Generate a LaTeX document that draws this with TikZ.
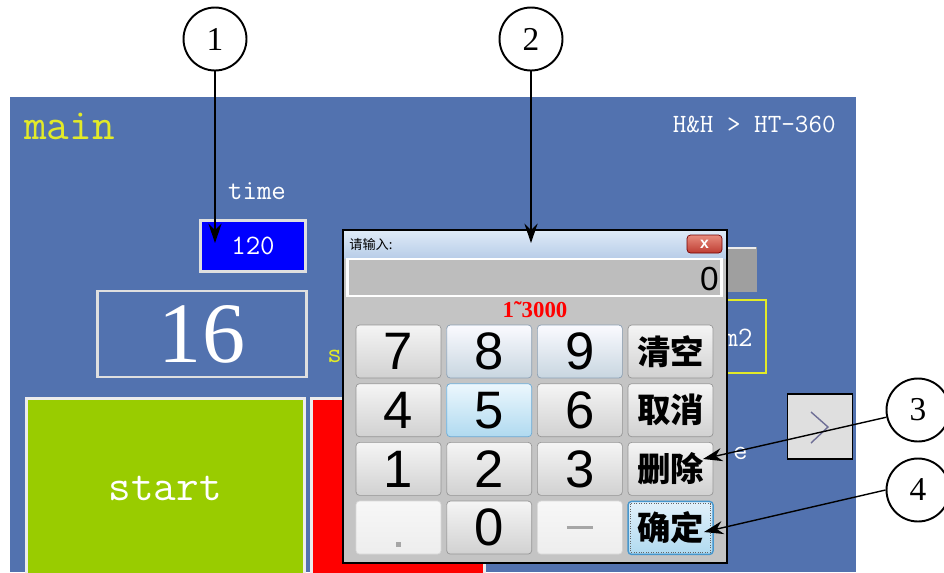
\documentclass[tikz,border=0pt]{standalone}
\usepackage{fontspec}
\newfontfamily\cjk{Noto Sans CJK SC}
\newfontfamily\keyfont{Liberation Sans}
\newfontfamily\numfont{Liberation Serif}
\usetikzlibrary{arrows.meta,positioning}

\definecolor{panelblue}{RGB}{82,114,175}
\definecolor{hmiyellow}{RGB}{226,234,40}
\definecolor{startgreen}{RGB}{153,204,0}
\definecolor{dlggrey}{RGB}{196,196,196}
\definecolor{keyedge}{RGB}{150,150,150}
\definecolor{titletop}{RGB}{222,234,247}
\definecolor{titlebot}{RGB}{184,205,232}
\definecolor{hoveredge}{RGB}{140,160,180}
\definecolor{focusedge}{RGB}{70,150,205}

\tikzset{
	hmitext/.style={font=\ttfamily\fontsize{16}{16}\selectfont,text=white,inner sep=0pt},
	key/.style={draw=keyedge,rounded corners=2pt,top color=white!96!black,bottom color=white!82!black,
		minimum width=1.7cm,minimum height=1.06cm,inner sep=0pt,font=\keyfont\fontsize{30}{30}\selectfont},
	hoverkey/.style={key,draw=hoveredge,top color=white!94!blue!30!white,bottom color={rgb,255:red,200;green,214;blue,224}},
	flatkey/.style={key,draw=white!85!black,top color=white!97!black,bottom color=white!93!black},
	cnkey/.style={key,font=\cjk\bfseries\fontsize{19}{19}\selectfont},
	callout/.style={draw,circle,line width=1.1pt,minimum size=1.26cm,fill=white,inner sep=0pt,
		font=\numfont\fontsize{19}{19}\selectfont},
	pointer/.style={-{Stealth[length=11pt,width=7.5pt]},line width=0.8pt}
}

\begin{document}
\begin{tikzpicture}[x=0.02cm,y=-0.02cm,node distance=1mm]
	\useasboundingbox (0,0) rectangle (944,572);

	% HMI screen
	\fill[panelblue] (10,97) rectangle (856,572);
	\node[hmitext,text=hmiyellow,anchor=west,font=\ttfamily\fontsize{25}{25}\selectfont] (title) at (24,126) {main};
	\node[hmitext,anchor=east,font=\ttfamily\fontsize{15}{15}\selectfont] (model) at (836,124) {H\&H > HT-360};
	\node[hmitext] (timelabel) at (257,191) {time};
	\node[hmitext,fill=blue,draw=white!75!gray,line width=1.5pt,minimum width=2.1cm,minimum height=1.02cm] (timeset) at (253,246) {120};
	\node[hmitext,draw=white!75!gray,line width=1.5pt,minimum width=4.18cm,minimum height=1.72cm,
		font=\numfont\fontsize{49}{49}\selectfont] (counter) at (202,334) {16};
	\node[hmitext,text=hmiyellow,anchor=west] (unit) at (327,356) {s};
	\node[hmitext,fill=startgreen,draw=white!85!gray,line width=1.5pt,minimum width=5.56cm,minimum height=3.6cm,
		anchor=north west,font=\ttfamily\fontsize{25}{25}\selectfont] (start) at (25,397) {start};
	\node[fill=red,draw=white!85!gray,line width=1.5pt,minimum width=3.46cm,minimum height=3.6cm,anchor=north west] (stop) at (310,397) {};

	% widgets partly under the keypad
	\fill[gray!75] (700,247) rectangle (757,292);
	\draw[white!85!gray,line width=1pt] (700,248) -- (756,248);
	\draw[hmiyellow,line width=1.2pt] (700,300) rectangle (766,373);
	\node[hmitext,anchor=east] (area) at (753,338) {m2};
	\node[hmitext,anchor=east] (mode) at (748,453) {e};
	\node[draw=black,fill=white!75!gray,line width=1pt,minimum width=1.3cm,minimum height=1.3cm] (next) at (820,426.5) {};
	\draw[line width=0.8pt,color={rgb,255:red,110;green,110;blue,150}] (811,412) -- (828,427) -- (811,443);

	% keypad dialog
	\fill[dlggrey] (343,230) rectangle (727,563);
	\shade[top color=titletop,bottom color=titlebot] (344,231) rectangle (726,258);
	\draw[black,line width=0.8pt] (343,230) rectangle (727,563);
	\node[anchor=west,inner sep=0pt,font=\cjk\fontsize{7.5}{7.5}\selectfont] (prompt) at (349,244) {请输入:};
	\node[draw=red!45!black,rounded corners=2pt,top color={rgb,255:red,232;green,140;blue,125},
		bottom color={rgb,255:red,190;green,60;blue,50},minimum width=0.7cm,minimum height=0.36cm,inner sep=0pt,
		text=white,font=\keyfont\bfseries\fontsize{9}{9}\selectfont] (close) at (704.5,244) {x};
	\node[draw=white,line width=1.2pt,fill=white!74!black,minimum width=7.48cm,minimum height=0.74cm] (display) at (534.5,277.5) {};
	\node[anchor=east,inner sep=0pt,font=\keyfont\fontsize{19}{19}\selectfont] (value) at (719,279) {0};
	\node[text=red,inner sep=0pt,font=\numfont\bfseries\fontsize{13}{13}\selectfont] (range) at (535,310) {1˜3000};

	\node[key] (K7) at (398.5,351.5) {7};
	\node[hoverkey] (K8) [right=of K7] {8};
	\node[hoverkey] (K9) [right=of K8] {9};
	\node[cnkey] (Kclear) [right=of K9] {清空};
	\node[key] (K4) [below=of K7] {4};
	\node[key,draw=focusedge!80,top color={rgb,255:red,236;green,247;blue,253},bottom color={rgb,255:red,176;green,218;blue,240}] (K5) [below=of K8] {5};
	\node[key] (K6) [below=of K9] {6};
	\node[cnkey] (Kcancel) [below=of Kclear] {取消};
	\node[key] (K1) [below=of K4] {1};
	\node[key] (K2) [below=of K5] {2};
	\node[key] (K3) [below=of K6] {3};
	\node[cnkey] (Kdel) [below=of Kcancel] {删除};
	\node[flatkey] (Kdot) [below=of K1] {};
	\node[key] (K0) [below=of K2] {0};
	\node[flatkey] (Kminus) [below=of K3] {};
	\node[cnkey,draw=focusedge,line width=0.8pt,top color={rgb,255:red,226;green,241;blue,251},bottom color={rgb,255:red,176;green,218;blue,240}] (Kok) [below=of Kdel] {确定};

	\node[fill=gray!70,minimum size=0.11cm,inner sep=0pt] (dotmark) at ([yshift=0.2cm]Kdot.south) {};
	\draw[gray!70,line width=1.6pt] ([xshift=-0.26cm]Kminus.center) -- ([xshift=0.26cm]Kminus.center);
	\draw[densely dotted,black!60] ([xshift=0.06cm,yshift=-0.06cm]Kok.north west) rectangle ([xshift=-0.06cm,yshift=0.06cm]Kok.south east);

	% callouts
	\node[callout] (c1) at (215,39) {1};
	\node[callout] (c2) at (531,39) {2};
	\node[callout] (c3) at (918,410) {3};
	\node[callout] (c4) at (918,490) {4};

	\coordinate (t1) at (215,243);
	\coordinate (t2) at (531,243);
	\coordinate (t3) at (703,459);
	\coordinate (t4) at (704,532);

	\draw[pointer] (c1) -- (t1);
	\draw[pointer] (c2) -- (t2);
	\draw[pointer] (c3) -- (t3);
	\draw[pointer] (c4.west) -- (t4);
\end{tikzpicture}
\end{document}
